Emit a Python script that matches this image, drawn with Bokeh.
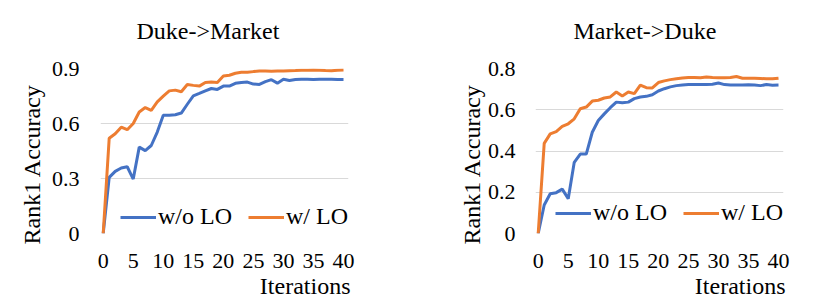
from bokeh.plotting import figure
from bokeh.layouts import row
from bokeh.models import FixedTicker, Title, Legend, LegendItem, Range1d
from bokeh.embed import file_html
from bokeh.resources import INLINE

iterations = list(range(41))

dm_wo_lo = [0.0, 0.306, 0.339, 0.357, 0.364, 0.297, 0.471, 0.452, 0.480, 0.553,
            0.645, 0.645, 0.648, 0.657, 0.705, 0.751, 0.764, 0.778, 0.791, 0.786,
            0.804, 0.804, 0.819, 0.824, 0.826, 0.815, 0.813, 0.828, 0.839, 0.820,
            0.841, 0.835, 0.840, 0.841, 0.841, 0.840, 0.842, 0.841, 0.841, 0.840, 0.840]
dm_w_lo = [0.0, 0.520, 0.544, 0.580, 0.566, 0.600, 0.663, 0.687, 0.672, 0.718,
           0.749, 0.778, 0.782, 0.773, 0.813, 0.808, 0.804, 0.824, 0.826, 0.824,
           0.859, 0.863, 0.874, 0.879, 0.879, 0.883, 0.886, 0.886, 0.885, 0.886,
           0.886, 0.888, 0.889, 0.891, 0.891, 0.892, 0.891, 0.889, 0.888, 0.891, 0.892]

md_wo_lo = [0.0, 0.138, 0.193, 0.198, 0.215, 0.169, 0.345, 0.385, 0.385, 0.491,
            0.548, 0.580, 0.610, 0.637, 0.634, 0.637, 0.654, 0.662, 0.665, 0.673,
            0.691, 0.702, 0.711, 0.717, 0.720, 0.722, 0.722, 0.722, 0.722, 0.724,
            0.730, 0.722, 0.720, 0.720, 0.720, 0.721, 0.720, 0.717, 0.722, 0.719, 0.720]
md_w_lo = [0.0, 0.437, 0.483, 0.494, 0.519, 0.532, 0.556, 0.605, 0.613, 0.642,
           0.646, 0.657, 0.662, 0.686, 0.667, 0.686, 0.678, 0.719, 0.707, 0.706,
           0.732, 0.740, 0.746, 0.750, 0.754, 0.756, 0.756, 0.755, 0.759, 0.756,
           0.755, 0.755, 0.756, 0.761, 0.753, 0.753, 0.753, 0.752, 0.750, 0.750, 0.753]

x_ticks = [0, 5, 10, 15, 20, 25, 30, 35, 40]
dm_y_ticks = [0, 0.3, 0.6, 0.9]
md_y_ticks = [0, 0.2, 0.4, 0.6, 0.8]

BLUE = "#4472C4"
ORANGE = "#ED7D31"
FONT = "Liberation Serif"


def make_panel(title, wo, w, yticks, ymax, border_left, border_right,
               title_offset, ylabel_standoff, ytick_standoff, legend_loc):
    p = figure(width=border_left + 248 + border_right, height=300,
               output_backend="svg", toolbar_location=None,
               x_range=Range1d(-0.45, 40.83), y_range=Range1d(0, ymax),
               min_border_left=border_left, min_border_right=border_right,
               min_border_top=68, min_border_bottom=67)
    p.outline_line_color = None
    p.background_fill_color = "white"
    p.border_fill_color = "white"

    spacer = Title(text=" ", text_font=FONT, text_font_size="10px",
                   standoff=12)
    p.add_layout(spacer, "above")
    t = Title(text=title, align="left", offset=title_offset,
              vertical_align="bottom",
              text_font=FONT, text_font_size="24px", text_font_style="normal",
              text_color="#000000", standoff=0)
    p.add_layout(t, "above")

    r1 = p.line(iterations, wo, line_color=BLUE, line_width=3)
    r2 = p.line(iterations, w, line_color=ORANGE, line_width=3)

    p.xgrid.grid_line_color = None
    p.ygrid.grid_line_color = "#D9D9D9"
    p.ygrid.grid_line_width = 1
    p.ygrid.ticker = FixedTicker(ticks=yticks)

    for ax in (p.xaxis[0], p.yaxis[0]):
        ax.axis_line_color = None
        ax.major_tick_line_color = None
        ax.minor_tick_line_color = None
        ax.major_tick_out = 0
        ax.major_tick_in = 0
        ax.major_label_text_font = FONT
        ax.major_label_text_font_size = "22px"
        ax.major_label_text_color = "#000000"

    p.xaxis[0].ticker = FixedTicker(ticks=x_ticks)
    p.xaxis[0].major_label_standoff = 20
    p.yaxis[0].ticker = FixedTicker(ticks=yticks)
    p.yaxis[0].major_label_overrides = {0: "0"}
    p.yaxis[0].major_label_standoff = ytick_standoff

    yl = Title(text="Rank1 Accuracy", align="left", offset=-11,
               text_font=FONT, text_font_size="24px", text_font_style="normal",
               text_color="#000000", standoff=ylabel_standoff)
    p.add_layout(yl, "left")

    xl = Title(text="Iterations", align="right", offset=-2,
               text_font=FONT, text_font_size="24px", text_font_style="normal",
               text_color="#000000", standoff=0)
    p.add_layout(xl, "below")

    legend = Legend(items=[LegendItem(label="w/o LO", renderers=[r1]),
                           LegendItem(label="w/ LO", renderers=[r2])],
                    orientation="horizontal", location=legend_loc,
                    label_text_font=FONT, label_text_font_size="24px",
                    label_text_color="#000000",
                    glyph_width=36, glyph_height=20, label_standoff=2,
                    spacing=16, padding=0, margin=0,
                    border_line_color=None, background_fill_alpha=0)
    p.add_layout(legend, "center")
    return p


p1 = make_panel("Duke->Market", dm_wo_lo, dm_w_lo, dm_y_ticks, 0.9,
                100, 62, 36, 7, 21, (20, 3))
p2 = make_panel("Market->Duke", md_wo_lo, md_w_lo, md_y_ticks, 0.8,
                125, 30, 38, 0, 20, (20, 7))

layout = row(p1, p2)
open("out.html", "w").write(file_html(layout, INLINE))
